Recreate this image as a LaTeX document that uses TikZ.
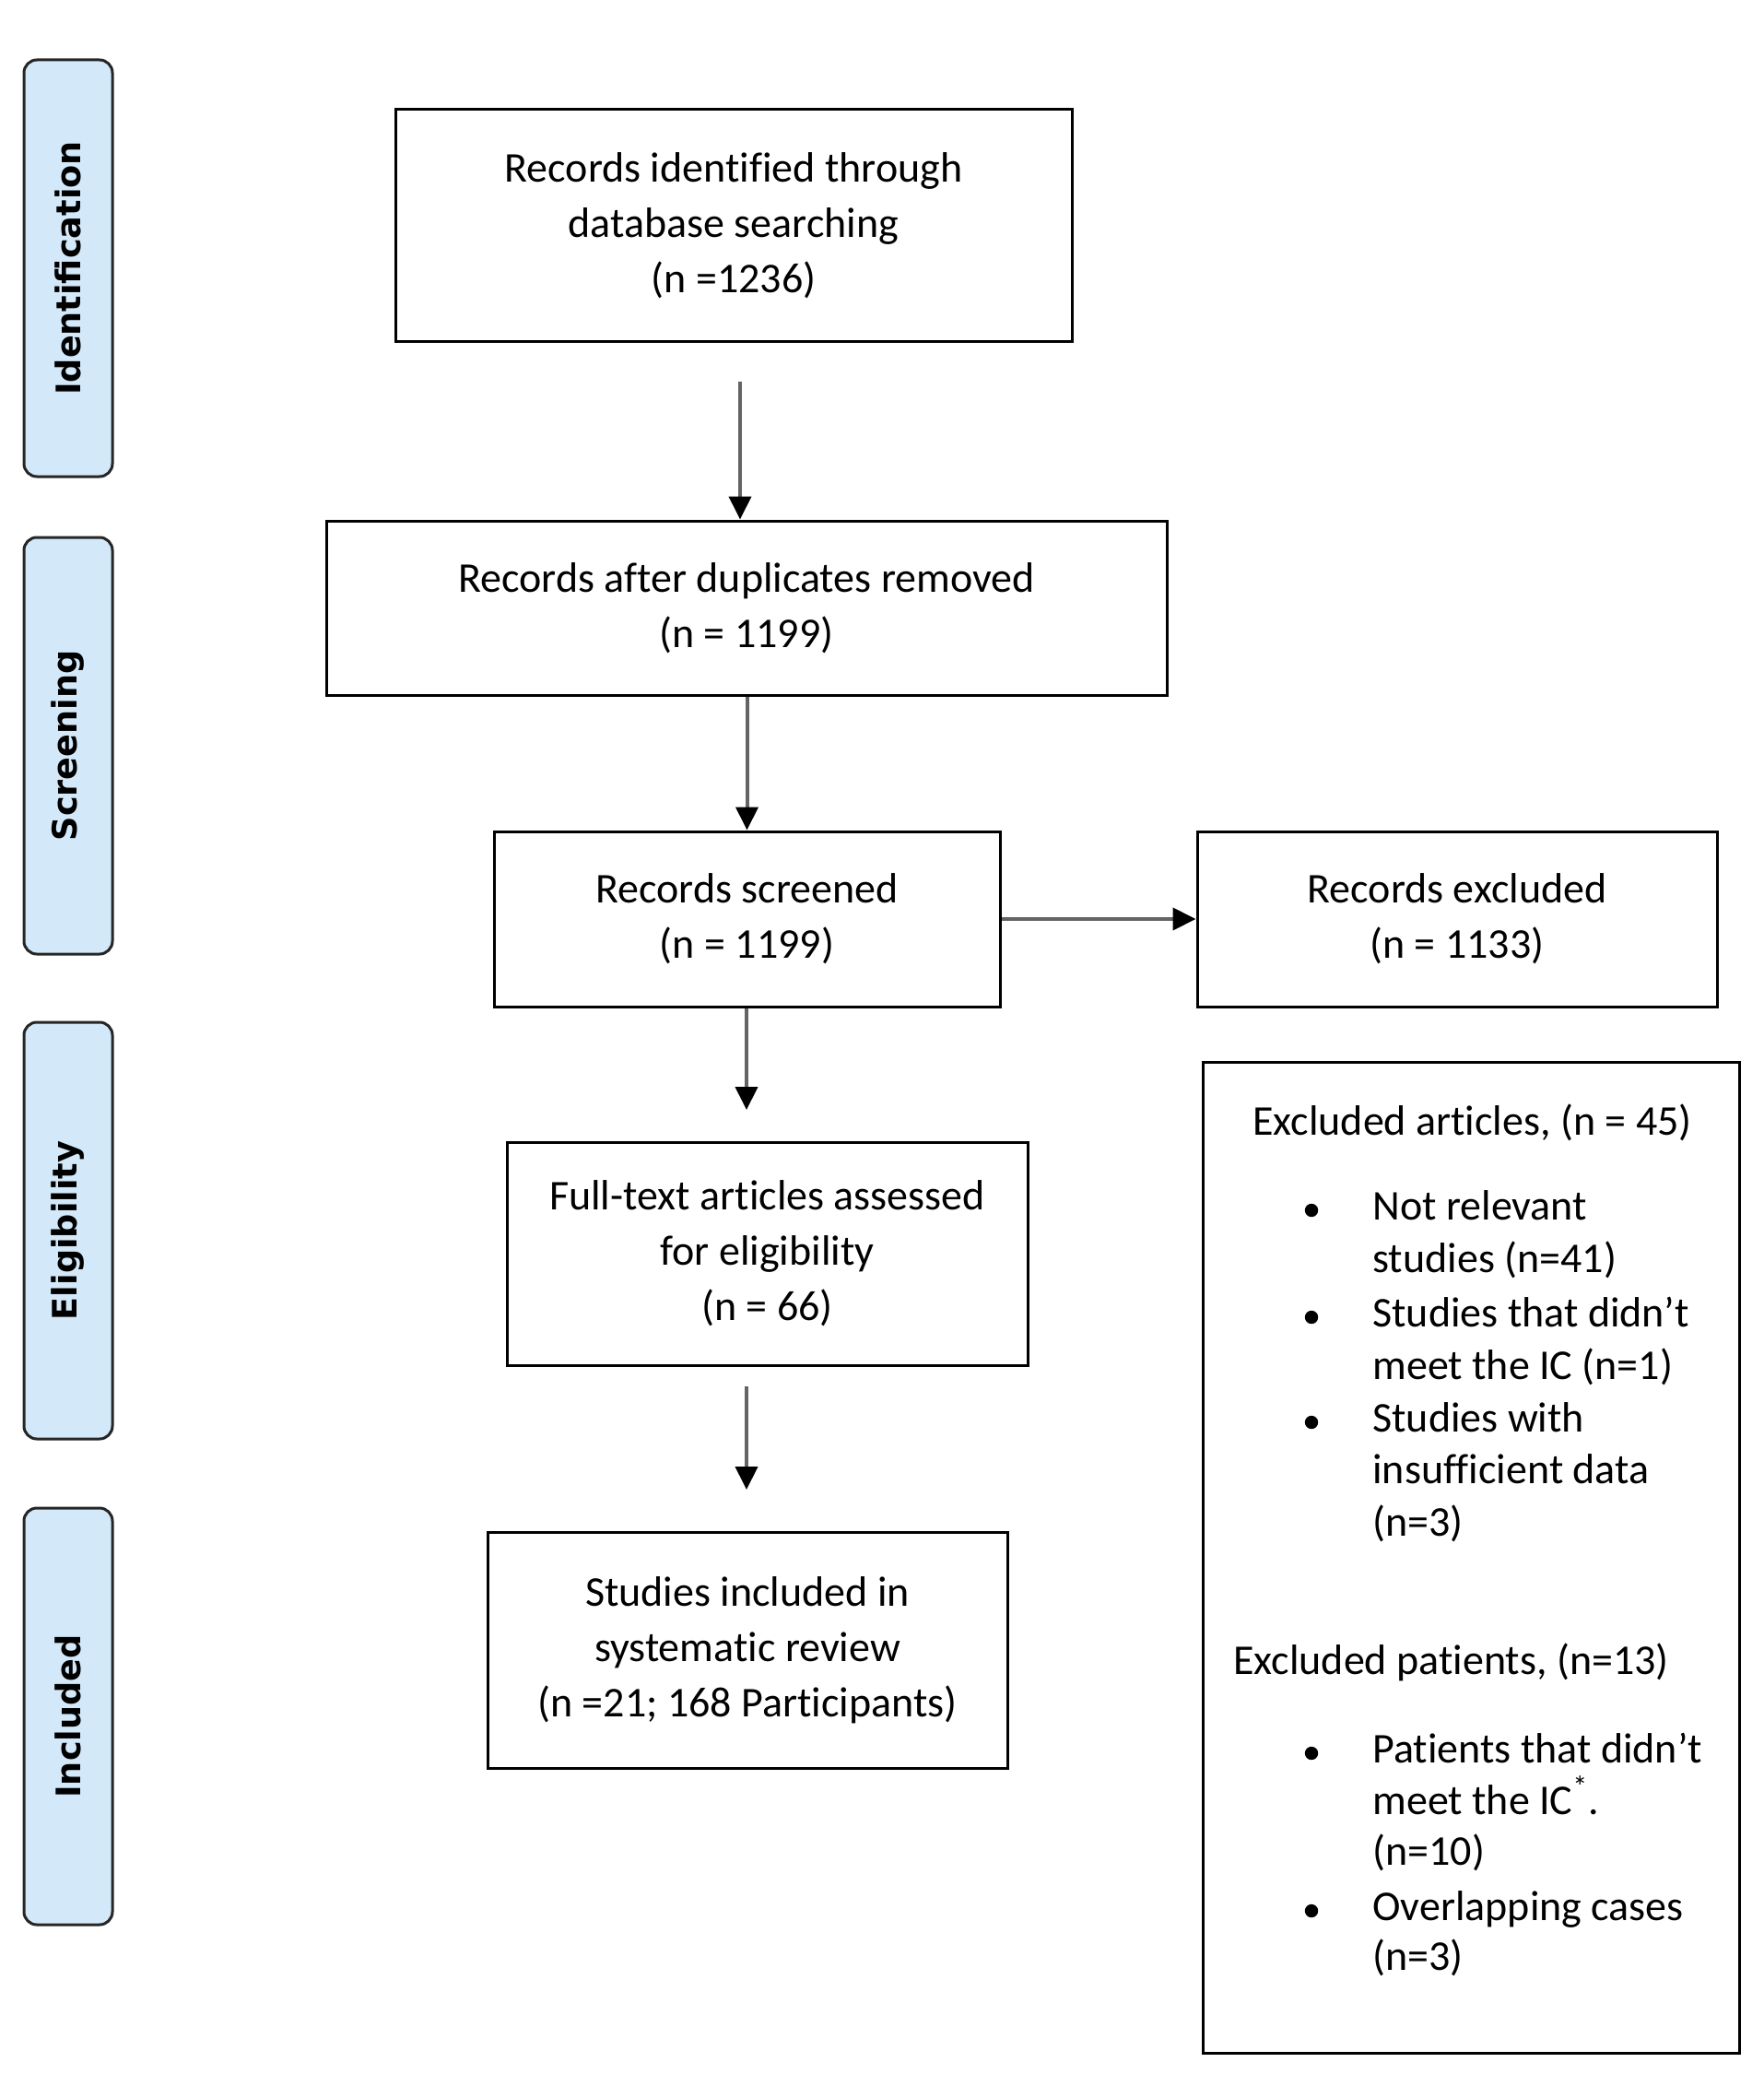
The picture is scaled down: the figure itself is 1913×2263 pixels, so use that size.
\documentclass[tikz,border=0pt]{standalone}
\usepackage{fontspec}
\setmainfont{Carlito}[Ligatures={NoCommon}]
\newfontfamily\sidefont{DejaVu Sans}
\usetikzlibrary{arrows.meta}
\definecolor{sideblue}{RGB}{211,233,250}
\definecolor{arrowgray}{RGB}{100,100,100}
\begin{document}
\begin{tikzpicture}[x=0.5pt,y=-0.5pt,
  box/.style={draw=black, line width=1.5pt, fill=white, align=center, inner sep=0pt,
    font=\fontsize{23}{30}\selectfont},
  side/.style={draw=black!85, line width=1.5pt, fill=sideblue, rounded corners=7pt,
    rotate=90, minimum width=226pt, minimum height=48pt, inner sep=0pt,
    font=\sidefont\bfseries\fontsize{18.3}{22}\selectfont},
  arr/.style={draw=arrowgray, line width=2pt, -{Triangle[length=12.5pt,width=12pt,color=black]}},
  ltxt/.style={anchor=base west, inner sep=0pt, font=\fontsize{23}{28}\selectfont},
  bul/.style={fill=black},
]
\useasboundingbox (0,0) rectangle (1913,2263);

% phase labels
\node[side] (sid) at (74,291) {Identification};
\node[side] (sscr) at (74,809) {Screening};
\node[side] (selig) at (74,1335) {Eligibility};
\node[side] (sinc) at (74,1862) {Included};

% main boxes
\node[box, minimum width=367pt, minimum height=126pt] (b1) at (796,245)
  {Records identified through\\database searching\\(n =1236)};
\node[box, minimum width=456pt, minimum height=94.5pt] (b2) at (810,659.5)
  {Records after duplicates removed\\(n = 1199)};
\node[box, minimum width=274.5pt, minimum height=95pt] (b3) at (810.5,997)
  {Records screened\\(n = 1199)};
\node[box, minimum width=282pt, minimum height=95pt] (b6) at (1581,997)
  {Records excluded\\(n = 1133)};
\node[box, minimum width=282.5pt, minimum height=121pt] (b4) at (832.5,1360)
  {Full-text articles assessed\\for eligibility\\(n = 66)};
\node[box, minimum width=282pt, minimum height=128pt] (b5) at (811,1790)
  {Studies included in\\systematic review\\(n =21; 168 Participants)};
\node[box, minimum width=291pt, minimum height=537.5pt] (b7) at (1596,1689.5) {};

% arrows
\coordinate (a1) at (803,414);
\draw[arr] (a1) -- (a1 |- b2.north);
\draw[arr] (b3.north |- b2.south) -- (b3.north);
\draw[arr] (b3.east) -- (b6.west);
\coordinate (a3) at (810,1204);
\draw[arr] (b3.south -| a3) -- (a3);
\coordinate (a4s) at (810,1504);
\coordinate (a4e) at (810,1616);
\draw[arr] (a4s) -- (a4e);

% exclusion details
\node[ltxt] (h1) at (1359,1231) {Excluded articles, (n = 45)};
\node[ltxt] (l1) at (1489,1323) {Not relevant};
\node[ltxt] (l2) at (1489,1380) {studies (n=41)};
\node[ltxt] (l3) at (1489,1439) {Studies that didn’t};
\node[ltxt] (l4) at (1489,1496) {meet the IC (n=1)};
\node[ltxt] (l5) at (1489,1553) {Studies with};
\node[ltxt] (l6) at (1489,1609) {insufficient data};
\node[ltxt] (l7) at (1489,1666) {(n=3)};
\node[ltxt] (h2) at (1338,1816) {Excluded patients, (n=13)};
\node[ltxt] (m1) at (1489,1912) {Patients that didn’t};
\node[ltxt] (m2) at (1489,1968) {meet the IC\textsuperscript{*}.};
\node[ltxt] (m3) at (1489,2023) {(n=10)};
\node[ltxt] (m4) at (1489,2083) {Overlapping cases};
\node[ltxt] (m5) at (1489,2137) {(n=3)};

\foreach \yy in {1313,1429,1543,1902,2073}
  \fill[bul] (1423,\yy) circle (3.6pt);
\end{tikzpicture}
\end{document}
